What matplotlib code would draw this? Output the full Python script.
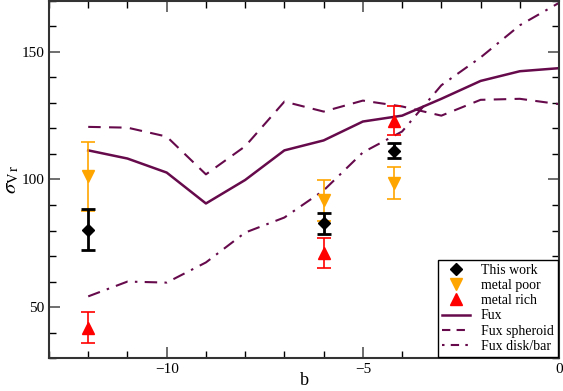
import numpy as np
import matplotlib
matplotlib.use("Agg")
import matplotlib.pyplot as plt
from matplotlib.ticker import MultipleLocator
from matplotlib.lines import Line2D

plt.rcParams['font.family'] = ['Liberation Serif', 'DejaVu Serif']
plt.rcParams['mathtext.fontset'] = 'stix'

# Fux model curves
b_fux = [-12, -11, -10, -9, -8, -7, -6, -5, -4, -3, -2, -1, 0]
fux_total = [111.4, 108.2, 102.7, 90.6, 99.8, 111.4, 115.3, 122.7, 125.0, 131.6, 138.6, 142.4, 143.6]
fux_spheroid = [120.6, 120.3, 116.8, 102.0, 113.0, 130.5, 126.6, 130.9, 128.6, 125.0, 131.2, 131.6, 129.5]
fux_disk = [54.2, 60.0, 59.6, 67.5, 79.2, 85.1, 95.7, 110.6, 118.8, 136.9, 147.8, 160.4, 169.2]

# observed fields
b_obs = [-12.0, -6.0, -4.2]
this_work = [80.3, 82.8, 111.3]
this_work_err = [8.0, 4.0, 3.0]
metal_poor = [101.3, 91.8, 98.5]
metal_poor_err = [13.5, 8.0, 6.2]
metal_rich = [42.0, 71.2, 123.1]
metal_rich_err = [6.0, 6.0, 5.8]

purple = '#660a4c'
orange = '#ffa500'
red = '#ff0000'

fig = plt.figure(figsize=(5.63, 3.91), dpi=100)
ax = fig.add_axes([0.087, 0.084, 0.906, 0.914])

ax.plot(b_fux, fux_total, color=purple, lw=1.8)
ax.plot(b_fux, fux_spheroid, color=purple, lw=1.5, ls=(0, (6, 4)))
ax.plot(b_fux, fux_disk, color=purple, lw=1.5, ls=(0, (6, 3.5, 1.2, 3.5)))

ax.errorbar(b_obs, metal_poor, yerr=metal_poor_err, fmt='v', color=orange, ms=8,
            elinewidth=1.2, capsize=5, capthick=1.2, zorder=4)
ax.errorbar(b_obs, metal_rich, yerr=metal_rich_err, fmt='^', color=red, ms=8,
            elinewidth=1.2, capsize=5, capthick=1.2, zorder=4)
ax.errorbar(b_obs, this_work, yerr=this_work_err, fmt='D', color='black', ms=6,
            elinewidth=2, capsize=5, capthick=2, zorder=5)

ax.set_xlim(-13, 0)
ax.set_ylim(30, 170)
ax.xaxis.set_major_locator(MultipleLocator(5))
ax.xaxis.set_minor_locator(MultipleLocator(1))
ax.yaxis.set_major_locator(MultipleLocator(50))
ax.yaxis.set_minor_locator(MultipleLocator(10))
ax.tick_params(which='both', direction='in', top=True, right=True, labelsize=11)
ax.tick_params(which='major', length=8, width=1.2, color='#555555')
ax.tick_params(which='minor', length=5, width=1)
for s in ax.spines.values():
    s.set_linewidth(1.5)
    s.set_color('#333333')

ax.set_xlabel('b', fontsize=13)
ax.xaxis.set_label_coords(0.5, -0.062)
ax.xaxis.label.set_va('center')
ax.set_ylabel(r'$\sigma_{\mathrm{V\,r}}$', fontsize=15, labelpad=0)

handles = [
    Line2D([], [], ls='none', marker='D', color='black', ms=6),
    Line2D([], [], ls='none', marker='v', color=orange, ms=8),
    Line2D([], [], ls='none', marker='^', color=red, ms=8),
    Line2D([], [], color=purple, lw=1.8),
    Line2D([], [], color=purple, lw=1.5, ls=(0, (4, 3))),
    Line2D([], [], color=purple, lw=1.5, ls=(0, (1.2, 3, 4, 3))),
]
labels = ['This work', 'metal poor', 'metal rich', 'Fux', 'Fux spheroid', 'Fux disk/bar']
leg = ax.legend(handles, labels, loc='lower right',
                fontsize=10, fancybox=False, edgecolor='black', framealpha=1,
                borderaxespad=0.1, handlelength=2.0, labelspacing=0.15, borderpad=0.3)
leg.get_frame().set_linewidth(1.0)

fig.savefig('out.png', dpi=100)
